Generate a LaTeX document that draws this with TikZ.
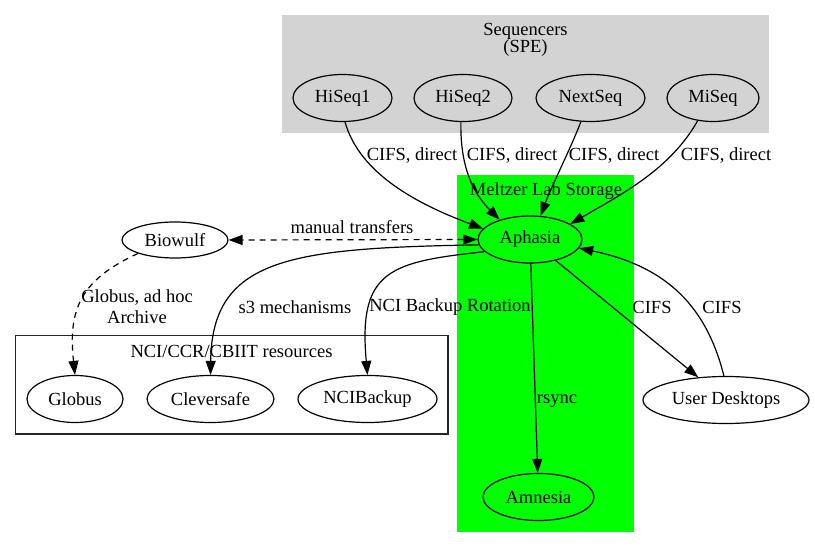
\documentclass[tikz,border=0pt]{standalone}
\usepackage{fontspec}
\setmainfont{Liberation Serif}
\usetikzlibrary{arrows.meta}
\usetikzlibrary{shapes.geometric}

\definecolor{clgray}{RGB}{211,211,211}
\definecolor{clgreen}{RGB}{0,255,0}

\tikzset{
	host/.style={ellipse, draw, line width=1.2pt, inner sep=0pt, minimum height=47pt},
	flow/.style={line width=1.2pt, -{Triangle[length=14pt,width=10pt]}},
	twoway/.style={line width=1.2pt, {Triangle[length=14pt,width=10pt]}-{Triangle[length=14pt,width=10pt]}, dash pattern=on 6pt off 5pt},
	lbl/.style={inner sep=0pt}
}

\begin{document}
\begin{tikzpicture}[x=1pt, y=-1pt, font=\fontsize{18.5}{21}\selectfont]
		\useasboundingbox (0,0) rectangle (815,548);
		% clusters
		\fill[clgray] (282,15) rectangle (769,133);
		\fill[clgreen] (457,175) rectangle (634,532);
		\draw[line width=1.2pt, black!85] (15.5,335.5) rectangle (448,434);
		\node[lbl] (seqtitle) at (525.5,31) {Sequencers};
		\node[lbl] (spe) at (525.5,48) {(SPE)};
		\node[lbl] (meltzer) at (546,191) {Meltzer Lab Storage};
		\node[lbl] (ncititle) at (231.5,351) {NCI/CCR/CBIIT resources};
		% hosts
		\node[host, minimum width=99pt] (hs1) at (342.5,98) {HiSeq1};
		\node[host, minimum width=98pt] (hs2) at (463,98) {HiSeq2};
		\node[host, minimum width=109pt] (nxt) at (590.5,98) {NextSeq};
		\node[host, minimum width=92pt] (mis) at (713,98) {MiSeq};
		\node[host, minimum width=104pt] (aph) at (530,239.5) {Aphasia};
		\node[host, minimum width=111pt] (amn) at (538.5,497) {Amnesia};
		\node[host, minimum width=166pt] (ud) at (726,400) {User Desktops};
		\node[host, minimum width=106pt, minimum height=36pt] (bio) at (175,240) {Biowulf};
		\node[host, minimum width=96pt] (glo) at (75,399) {Globus};
		\node[host, minimum width=127pt] (cle) at (210.5,399) {Cleversafe};
		\node[host, minimum width=139pt] (nbk) at (367.5,399) {NCIBackup};
		% sequencers to storage
		\draw[flow] (hs1.-84) .. controls (360,175) and (420,205) .. (aph.167);
		\draw[flow] (hs2.-95) .. controls (460,170) and (475,195) .. (aph.147);
		\draw[flow] (nxt.-112) .. controls (570,150) and (552,185) .. (aph.66);
		\draw[flow] (mis.-124) .. controls (670,170) and (620,195) .. (aph.21);
		\node[lbl] (cifs1) at (412,156) {CIFS, direct};
		\node[lbl] (cifs2) at (512,156) {CIFS, direct};
		\node[lbl] (cifs3) at (614,156) {CIFS, direct};
		\node[lbl] (cifs4) at (726,156) {CIFS, direct};
		% transfers out of Aphasia
		\draw[twoway] (aph.west) -- (bio.east);
		\node[lbl] (manual) at (352,227) {manual transfers};
		\draw[flow, dash pattern=on 6pt off 5pt] (bio.-160) .. controls (80,280) and (68,310) .. (glo.north);
		\node[lbl, align=center] (adhoc) at (137,307) {Globus, ad hoc\\Archive};
		\draw[flow] (aph.186) .. controls (290,248) and (212,258) .. (cle.north);
		\node[lbl] (s3) at (295,307) {s3 mechanisms};
		\draw[flow] (aph.195) .. controls (390,262) and (358,270) .. (nbk.north);
		\node[lbl] (rot) at (450,307) {NCI Backup Rotation};
		\draw[flow] (aph) -- (amn);
		\node[lbl] (rsync) at (557,401) {rsync};
		\draw[flow] (aph) -- (ud);
		\node[lbl] (cifs5) at (652,307) {CIFS};
		\draw[flow] (ud.95) .. controls (705,300) and (660,265) .. (aph.-10);
		\node[lbl] (cifs6) at (722,307) {CIFS};
	\end{tikzpicture}
\end{document}
